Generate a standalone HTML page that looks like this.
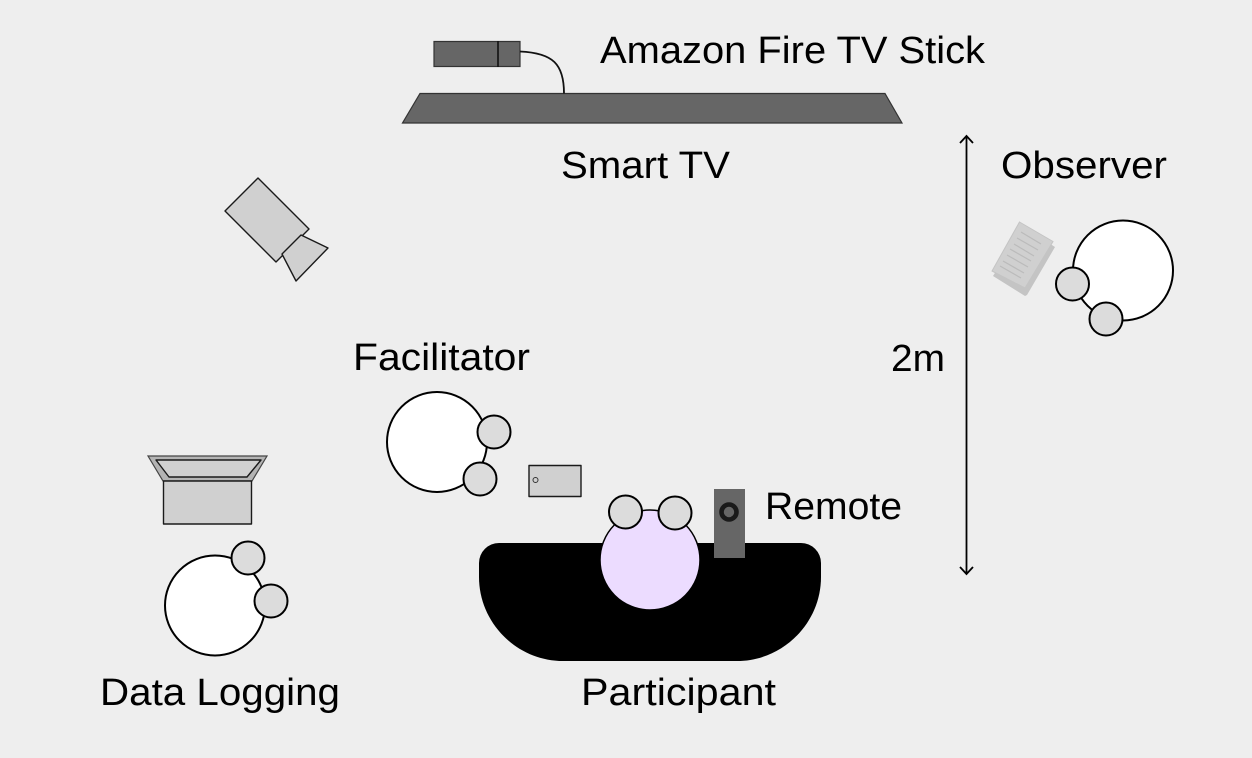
<!DOCTYPE html>
<html>
<head>
<meta charset="utf-8">
<style>
html,body{margin:0;padding:0;background:#eeeeee;width:1252px;height:758px;overflow:hidden}
svg{display:block}
text{font-family:"Liberation Sans",sans-serif;font-size:38px;fill:#000}
.h{fill:#dcdcdc;stroke:#000;stroke-width:2}
.b{fill:#fff;stroke:#000;stroke-width:2}
.g{fill:#d0d0d0;stroke:#1a1a1a;stroke-width:1.4;stroke-linejoin:round}
.d{fill:#666;stroke:#333;stroke-width:1.2}
</style>
</head>
<body>
<svg width="1252" height="758" viewBox="0 0 1252 758" xmlns="http://www.w3.org/2000/svg">
<rect width="1252" height="758" fill="#eeeeee"/>

<!-- TV -->
<polygon class="d" points="420,93.5 885,93.5 902,123 402.5,123"/>
<rect class="d" x="434" y="41.5" width="86" height="25"/>
<line x1="498" y1="41" x2="498" y2="67" stroke="#111" stroke-width="1.6"/>
<path d="M520 51.5C553 53 564 64 564 93.5" fill="none" stroke="#111" stroke-width="1.8"/>

<!-- Camera -->
<polygon class="g" points="258,178 309,229 276,262 225,211"/>
<polygon class="g" points="301,235 328,248 296,281 282,254"/>

<!-- Observer -->
<polygon points="993,276 1024,227 1055,247 1027,295 1025,296" fill="#c4c4c4"/>
<polygon points="1019.5,222 1053,241.5 1025,288 992,271" fill="#d0d0d0" stroke="#c4c4c4" stroke-width="1"/>
<g stroke="#bbbbbb" stroke-width="1.2">
<line x1="1021" y1="232" x2="1041" y2="244"/>
<line x1="1017" y1="238" x2="1038" y2="250"/>
<line x1="1014" y1="244" x2="1034" y2="256"/>
<line x1="1010" y1="249" x2="1031" y2="261"/>
<line x1="1007" y1="255" x2="1028" y2="267"/>
<line x1="1003" y1="261" x2="1024" y2="273"/>
<line x1="1000" y1="266" x2="1021" y2="278"/>
</g>
<circle class="b" cx="1123" cy="270.5" r="50"/>
<circle class="h" cx="1072.5" cy="284" r="16.5"/>
<circle class="h" cx="1106" cy="319" r="16.5"/>

<!-- Facilitator -->
<circle class="b" cx="437" cy="442" r="50"/>
<circle class="h" cx="494" cy="432" r="16.5"/>
<circle class="h" cx="480" cy="479" r="16.5"/>
<rect class="g" x="529" y="465.5" width="52" height="31"/>
<circle cx="535.5" cy="480" r="2.5" fill="none" stroke="#333" stroke-width="1"/>

<!-- Laptop -->
<polygon points="148,456 267,456 252,481 163,481" fill="#b4b4b4" stroke="#444" stroke-width="1.2"/>
<polygon class="g" points="156,460 261,460 247,477 169,477"/>
<rect class="g" x="163.5" y="481" width="88" height="43"/>

<!-- Data Logging person -->
<circle class="b" cx="215" cy="605.5" r="50"/>
<circle class="h" cx="248" cy="558" r="16.5"/>
<circle class="h" cx="271" cy="601" r="16.5"/>

<!-- Table -->
<path d="M499 543H801A20 20 0 0 1 821 563V577C821 623 783 661 737 661H563C517 661 479 623 479 577V563A20 20 0 0 1 499 543Z" fill="#000"/>

<!-- Remote -->
<rect x="714" y="489" width="31" height="69" fill="#666"/>
<circle cx="729" cy="512" r="7.5" fill="none" stroke="#1a1a1a" stroke-width="4.6"/>

<!-- Participant -->
<circle cx="650" cy="560" r="50" fill="#ecdcff" stroke="#000" stroke-width="1.5"/>
<circle class="h" cx="625.5" cy="512" r="16.5"/>
<circle class="h" cx="675" cy="513" r="16.5"/>

<!-- Arrow -->
<line x1="966.5" y1="136" x2="966.5" y2="574" stroke="#000" stroke-width="1.8"/>
<path d="M960 143L966.5 136L973 143M960 567L966.5 574L973 567" fill="none" stroke="#000" stroke-width="1.8"/>

<!-- Labels -->
<text x="600" y="63" textLength="385" lengthAdjust="spacingAndGlyphs">Amazon Fire TV Stick</text>
<text x="561" y="178" textLength="169" lengthAdjust="spacingAndGlyphs">Smart TV</text>
<text x="1001" y="178" textLength="166" lengthAdjust="spacingAndGlyphs">Observer</text>
<text x="353" y="370" textLength="177" lengthAdjust="spacingAndGlyphs">Facilitator</text>
<text x="891" y="371" textLength="54" lengthAdjust="spacingAndGlyphs">2m</text>
<text x="765" y="519" textLength="137" lengthAdjust="spacingAndGlyphs">Remote</text>
<text x="100" y="705" textLength="240" lengthAdjust="spacingAndGlyphs">Data Logging</text>
<text x="581" y="705" textLength="195" lengthAdjust="spacingAndGlyphs">Participant</text>
</svg>
</body>
</html>
